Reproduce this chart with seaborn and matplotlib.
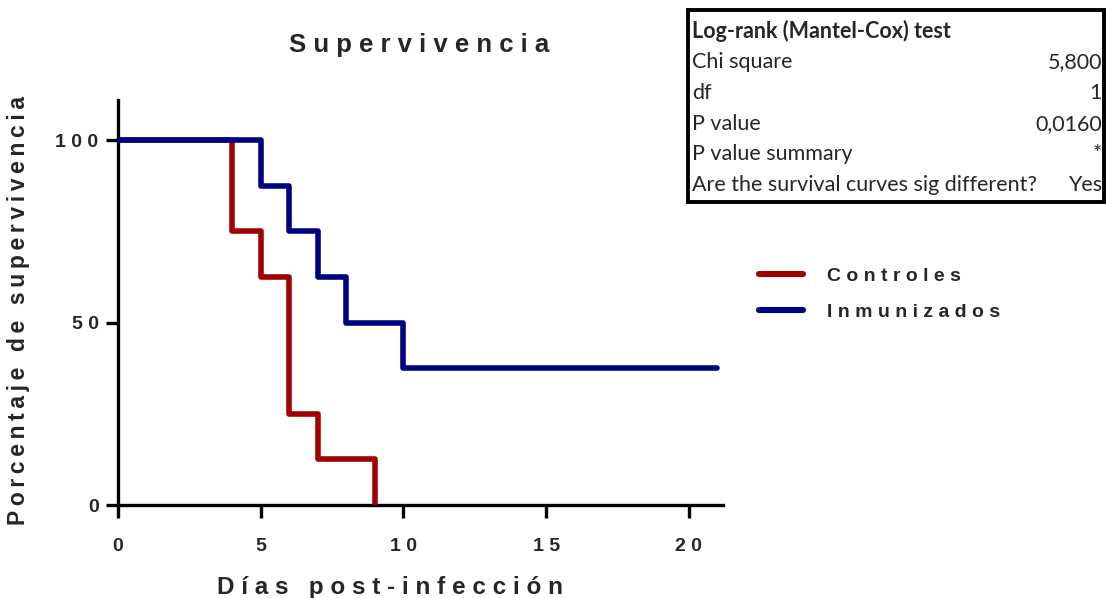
import matplotlib
matplotlib.use("Agg")
import matplotlib.pyplot as plt
import seaborn as sns
import pandas as pd
from matplotlib.patches import Rectangle
from matplotlib.lines import Line2D

# Kaplan-Meier survival steps (percent surviving)
dias_controles = [0, 4, 5, 6, 7, 9]
pct_controles = [100, 75, 62.5, 25, 12.5, 0]
dias_inmunizados = [0, 5, 6, 7, 8, 10, 21]
pct_inmunizados = [100, 87.5, 75, 62.5, 50, 37.5, 37.5]
grupos = ["Controles", "Inmunizados"]
colores = ["#A00000", "#000080"]

x_ticks = [0, 5, 10, 15, 20]
y_ticks = [0, 50, 100]

# Log-rank test summary table
tabla_titulo = "Log-rank (Mantel-Cox) test"
tabla_filas = ["Chi square", "df", "P value", "P value summary",
               "Are the survival curves sig different?"]
tabla_valores = ["5,800", "1", "0,0160", "*", "Yes"]


def sp(s, gap=" "):
    """Letter-spaced text."""
    return gap.join(s)


df = pd.DataFrame({
    "dia": dias_controles + dias_inmunizados,
    "pct": pct_controles + pct_inmunizados,
    "grupo": [grupos[0]] * len(dias_controles) + [grupos[1]] * len(dias_inmunizados),
})

sns.set_style("white")
plt.rcParams["font.family"] = ["Liberation Sans", "DejaVu Sans"]

W, H = 1106, 598
fig = plt.figure(figsize=(W / 100, H / 100), dpi=100)
ax = fig.add_axes([118 / W, 1 - 505 / H, (723 - 118) / W, (505 - 100) / H])

LW = 4.0
sns.lineplot(data=df, x="dia", y="pct", hue="grupo", palette=colores,
             drawstyle="steps-post", linewidth=LW, estimator=None, sort=False,
             ax=ax, legend=False)

ax.set_xlim(0, 21.2)
ax.set_ylim(0, 111)
ax.set_xticks(x_ticks)
ax.set_yticks(y_ticks)
ax.set_xticklabels([sp(str(t)) for t in x_ticks], fontsize=14, fontweight="bold")
ax.set_yticklabels([sp(str(t)) for t in y_ticks], fontsize=14, fontweight="bold")
ax.tick_params(axis="x", bottom=True, direction="out", length=9, width=2.4, pad=15,
               color="black")
ax.tick_params(axis="y", left=True, direction="out", length=9, width=2.4, pad=5,
               color="black")
for side in ["top", "right"]:
    ax.spines[side].set_visible(False)
for side in ["left", "bottom"]:
    ax.spines[side].set_linewidth(2.4)
    ax.spines[side].set_color("black")
    ax.spines[side].set_zorder(1)

ax.set_xlabel(sp("Días post-infección"), fontsize=17.5, fontweight="bold")
ax.set_ylabel(sp("Porcentaje de supervivencia", "\u2009"), fontsize=16.5,
              fontweight="bold")
ax.xaxis.set_label_coords(0.45, -0.175)
ax.yaxis.set_label_coords(-0.145, 0.48)
fig.text(419 / W, 1 - 45 / H, sp("Supervivencia"), fontsize=18.5, fontweight="bold",
         ha="center", va="center")

# Legend
handles = [Line2D([], [], color=c, linewidth=LW + 0.4) for c in colores]
fig.legend(handles, [sp(g) for g in grupos], loc="upper left",
           bbox_to_anchor=(741 / W, 1 - 250 / H), frameon=False,
           handlelength=2.3, handletextpad=1.2, labelspacing=0.95,
           prop={"size": 14, "weight": "bold"})

# Statistics table
x0, x1, y0, y1 = 688, 1104, 10, 202
fig.patches.append(Rectangle((x0 / W, 1 - y1 / H), (x1 - x0) / W, (y1 - y0) / H,
                             transform=fig.transFigure, fill=False,
                             edgecolor="black", linewidth=2.8))
tfont = ["Lato", "DejaVu Sans"]
fig.text(692 / W, 1 - 31 / H, tabla_titulo, fontsize=15.5, fontweight="bold",
         family=tfont, ha="left", va="center")
for i, (fila, val) in enumerate(zip(tabla_filas, tabla_valores)):
    yy = 1 - (62 + i * 30.8) / H
    fig.text(692 / W, yy, fila, fontsize=15.5, family=tfont, ha="left", va="center")
    fig.text(1102 / W, yy, val, fontsize=15.5, family=tfont, ha="right", va="center")

fig.savefig("out.png", dpi=100)
